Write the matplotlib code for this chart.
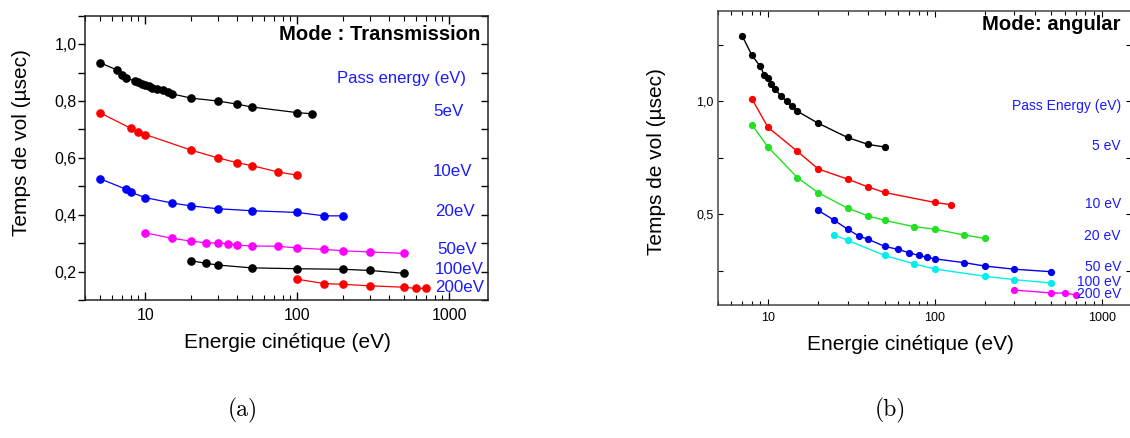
import matplotlib
matplotlib.use("Agg")
import matplotlib.pyplot as plt
from matplotlib.ticker import FixedLocator, FuncFormatter, LogLocator, NullFormatter, MultipleLocator

plt.rcParams['font.family'] = ['Liberation Sans', 'DejaVu Sans']

W, H = 1130, 438

# ---------------- Panel (a): Mode Transmission ----------------
a_pe5_x = [5, 6.5, 7, 7.5, 8.5, 9, 9.5, 10, 10.5, 11, 12, 13, 14, 15, 20, 30, 40, 50, 100, 125]
a_pe5_y = [0.935, 0.909, 0.893, 0.880, 0.871, 0.866, 0.861, 0.857, 0.852, 0.846, 0.842, 0.837,
           0.832, 0.825, 0.810, 0.800, 0.789, 0.779, 0.759, 0.755]
a_pe10_x = [5, 8, 9, 10, 20, 30, 40, 50, 75, 100]
a_pe10_y = [0.759, 0.704, 0.692, 0.682, 0.627, 0.600, 0.583, 0.573, 0.550, 0.539]
a_pe20_x = [5, 7.5, 8, 10, 15, 20, 30, 50, 100, 150, 200]
a_pe20_y = [0.527, 0.489, 0.479, 0.460, 0.441, 0.431, 0.421, 0.414, 0.408, 0.396, 0.396]
a_pe50_x = [10, 15, 20, 25, 30, 35, 40, 50, 75, 100, 150, 200, 300, 500]
a_pe50_y = [0.336, 0.317, 0.307, 0.301, 0.301, 0.298, 0.293, 0.290, 0.289, 0.283, 0.278,
            0.273, 0.269, 0.264]
a_pe100_x = [20, 25, 30, 50, 100, 200, 300, 500]
a_pe100_y = [0.238, 0.229, 0.223, 0.213, 0.210, 0.208, 0.204, 0.194]
a_pe200_x = [100, 150, 200, 300, 500, 600, 700]
a_pe200_y = [0.173, 0.158, 0.155, 0.150, 0.145, 0.141, 0.141]

a_series = [(a_pe5_x, a_pe5_y, '#000000'), (a_pe10_x, a_pe10_y, '#ff0000'),
            (a_pe20_x, a_pe20_y, '#0000ff'), (a_pe50_x, a_pe50_y, '#ff00ff'),
            (a_pe100_x, a_pe100_y, '#000000'), (a_pe200_x, a_pe200_y, '#ff0000')]
a_labels = ['5eV', '10eV', '20eV', '50eV', '100eV', '200eV']
a_label_px = [(433, 112), (433, 172), (435, 211), (437, 250), (435, 269), (435, 288)]

# ---------------- Panel (b): Mode angular ----------------
b_pe5_x = [7, 8, 9, 9.5, 10, 10.5, 11, 12, 13, 14, 15, 20, 30, 40, 50]
b_pe5_y = [1.290, 1.204, 1.154, 1.116, 1.103, 1.075, 1.056, 1.022, 0.999, 0.978, 0.956,
           0.903, 0.840, 0.809, 0.798]
b_pe10_x = [8, 10, 15, 20, 30, 40, 50, 100, 125]
b_pe10_y = [1.012, 0.885, 0.779, 0.701, 0.656, 0.621, 0.597, 0.553, 0.543]
b_pe20_x = [8, 10, 15, 20, 30, 40, 50, 75, 100, 150, 200]
b_pe20_y = [0.897, 0.798, 0.663, 0.596, 0.528, 0.493, 0.474, 0.446, 0.435, 0.409, 0.394]
b_pe50_x = [20, 25, 30, 35, 40, 50, 60, 70, 80, 90, 100, 150, 200, 300, 500]
b_pe50_y = [0.518, 0.474, 0.435, 0.405, 0.390, 0.359, 0.346, 0.331, 0.319, 0.311, 0.304,
            0.287, 0.272, 0.258, 0.247]
b_pe100_x = [25, 30, 50, 75, 100, 200, 300, 500]
b_pe100_y = [0.409, 0.386, 0.319, 0.282, 0.259, 0.227, 0.212, 0.197]
b_pe200_x = [300, 500, 600, 700]
b_pe200_y = [0.166, 0.153, 0.153, 0.144]

b_series = [(b_pe5_x, b_pe5_y, '#000000'), (b_pe10_x, b_pe10_y, '#ff0000'),
            (b_pe20_x, b_pe20_y, '#22e022'), (b_pe50_x, b_pe50_y, '#0000ee'),
            (b_pe100_x, b_pe100_y, '#00eeee'), (b_pe200_x, b_pe200_y, '#ff00ff')]
b_labels = ['5 eV', '10 eV', '20 eV', '50 eV', '100 eV', '200 eV']
b_label_px = [(1121, 146), (1121, 204), (1121, 236), (1121, 267), (1121, 282), (1121, 294)]

LABEL_BLUE = '#1a1aff'

fig = plt.figure(figsize=(W / 100, H / 100), dpi=100)


def px(x, y):
    return x / W, 1 - y / H


def rect(l, t, r, b):
    return [l / W, 1 - b / H, (r - l) / W, (b - t) / H]


comma = FuncFormatter(lambda v, p: ('%.1f' % v).replace('.', ','))

# ---- (a)
axa = fig.add_axes(rect(85, 15.7, 488, 300))
for x, y, c in a_series:
    axa.plot(x, y, '-', color=c, lw=0.9, marker='o', ms=5.2, mfc=c, mec=c)
axa.set_xscale('log')
axa.set_xlim(4.0, 1800)
axa.set_ylim(0.1, 1.1)
axa.yaxis.set_major_locator(FixedLocator([0.2, 0.4, 0.6, 0.8, 1.0]))
axa.yaxis.set_minor_locator(FixedLocator([0.1, 0.3, 0.5, 0.7, 0.9, 1.1]))
axa.yaxis.set_major_formatter(comma)
axa.xaxis.set_major_locator(FixedLocator([10, 100, 1000]))
axa.xaxis.set_major_formatter(FuncFormatter(lambda v, p: '%d' % v))
axa.xaxis.set_minor_locator(LogLocator(base=10, subs=range(2, 10)))
axa.xaxis.set_minor_formatter(NullFormatter())
for s in axa.spines.values():
    s.set_linewidth(1.1)
    s.set_color('#222222')
axa.tick_params(axis='y', which='both', direction='out', left=True, right=False,
                length=5, width=1, labelsize=11.5, pad=1)
axa.tick_params(axis='x', which='major', direction='in', top=True, bottom=True,
                length=6, width=1, labelsize=11.5, pad=6)
axa.tick_params(axis='x', which='minor', direction='in', top=True, bottom=True,
                length=3.5, width=0.8)
# right-side inward ticks
axa_r = axa.secondary_yaxis('right')
axa_r.yaxis.set_major_locator(FixedLocator([0.2, 0.4, 0.6, 0.8, 1.0]))
axa_r.yaxis.set_minor_locator(FixedLocator([0.1, 0.3, 0.5, 0.7, 0.9, 1.1]))
axa_r.tick_params(which='both', direction='in', length=5, width=1, labelright=False)
axa_r.spines['right'].set_visible(False)

fig.text(*px(480, 35), 'Mode : Transmission', ha='right', va='center',
         fontsize=14.6, fontweight='bold')
fig.text(*px(337, 79), 'Pass energy (eV)', ha='left', va='center', fontsize=12,
         color=LABEL_BLUE)
for lab, (lx, ly) in zip(a_labels, a_label_px):
    fig.text(*px(lx, ly), lab, ha='left', va='center', fontsize=12.2, color=LABEL_BLUE)
fig.text(*px(22, 143), 'Temps de vol (µsec)', rotation=90, ha='center', va='center',
         fontsize=15)
fig.text(*px(287, 343), 'Energie cinétique (eV)', ha='center', va='center', fontsize=15)

# ---- (b)
axb = fig.add_axes(rect(717.7, 10.7, 1131, 305))
for x, y, c in b_series:
    axb.plot(x, y, '-', color=c, lw=1.0, marker='o', ms=4.2, mfc=c, mec=c)
axb.set_xscale('log')
axb.set_xlim(5.0, 1500)
axb.set_ylim(0.1, 1.4)
axb.yaxis.set_major_locator(FixedLocator([0.5, 1.0]))
axb.yaxis.set_minor_locator(FixedLocator([0.25, 0.75, 1.25]))
axb.yaxis.set_major_formatter(comma)
axb.xaxis.set_major_locator(FixedLocator([10, 100, 1000]))
axb.xaxis.set_major_formatter(FuncFormatter(lambda v, p: '%d' % v))
axb.xaxis.set_minor_locator(LogLocator(base=10, subs=range(2, 10)))
axb.xaxis.set_minor_formatter(NullFormatter())
for s in axb.spines.values():
    s.set_linewidth(1.1)
    s.set_color('#444444')
axb.tick_params(axis='y', which='both', direction='in', left=True, right=True,
                length=3.5, width=0.8, labelsize=9, pad=3)
axb.tick_params(axis='x', which='major', direction='in', top=True, bottom=True,
                length=4.5, width=0.8, labelsize=9, pad=5)
axb.tick_params(axis='x', which='minor', direction='in', top=True, bottom=True,
                length=3, width=0.8)

fig.text(*px(1121, 24), 'Mode: angular', ha='right', va='center',
         fontsize=14.6, fontweight='bold')
fig.text(*px(1121, 106), 'Pass Energy (eV)', ha='right', va='center', fontsize=10,
         color=LABEL_BLUE)
for lab, (lx, ly) in zip(b_labels, b_label_px):
    fig.text(*px(lx, ly), lab, ha='right', va='center', fontsize=10, color=LABEL_BLUE)
fig.text(*px(657, 162), 'Temps de vol (µsec)', rotation=90, ha='center', va='center',
         fontsize=15)
fig.text(*px(910, 345), 'Energie cinétique (eV)', ha='center', va='center', fontsize=15)

# panel captions
fig.text(*px(243, 410), '(a)', ha='center', va='center', fontsize=17, family='cmr10')
fig.text(*px(890, 410), '(b)', ha='center', va='center', fontsize=17, family='cmr10')

fig.savefig('out.png', dpi=100)
